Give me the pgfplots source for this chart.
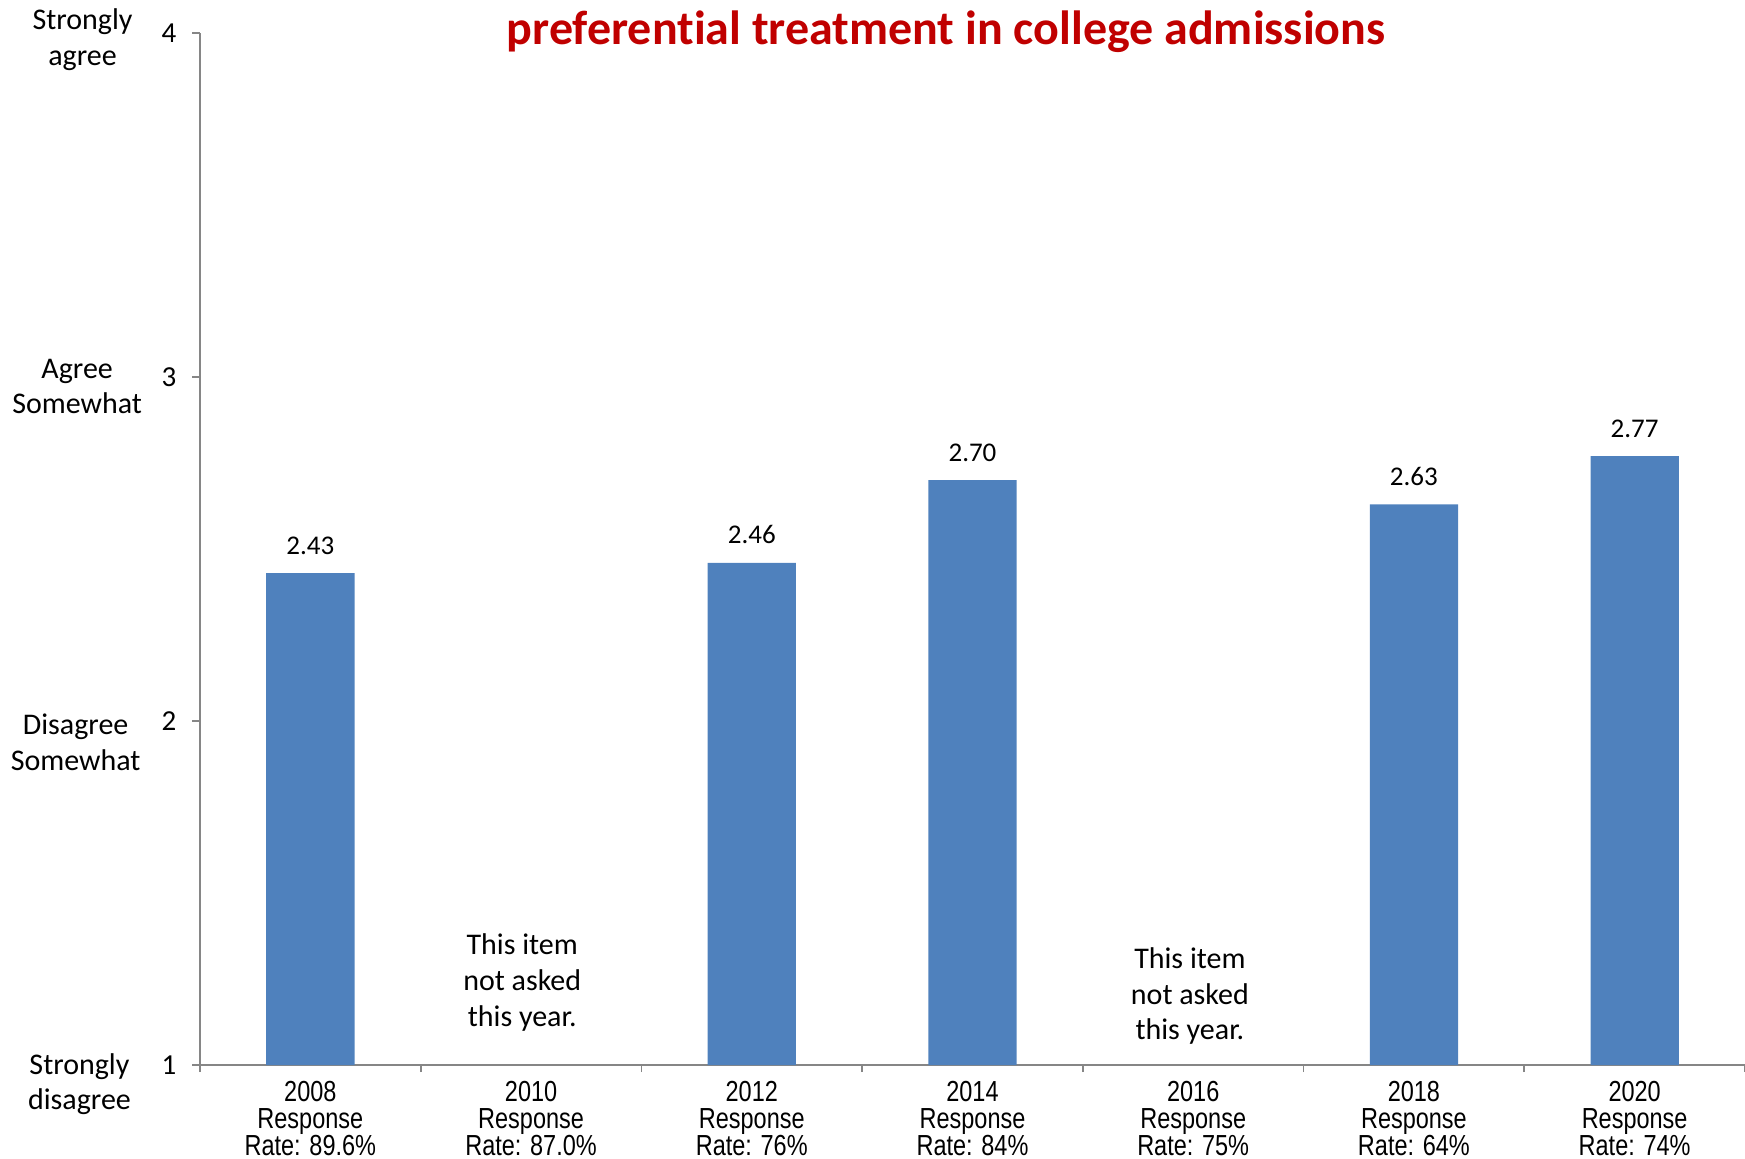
\documentclass[border=0pt]{standalone}
\usepackage{pgfplots}
\pgfplotsset{compat=1.18}
\usepackage{fontspec}
\setmainfont{Carlito}[Ligatures=NoCommon]
\newfontfamily\arialf{Liberation Sans}
\usepackage{graphicx}
\definecolor{barblue}{RGB}{79,129,189}
\definecolor{titlered}{RGB}{192,0,0}
\definecolor{axgray}{RGB}{134,134,134}
\newcommand{\sx}[1]{\scalebox{0.81}[1]{#1}}
\newcommand{\xl}[2]{\sx{#1}\\\sx{Response}\\\sx{Rate: #2}}
\begin{document}
\begin{tikzpicture}
\useasboundingbox (0,0) rectangle (872.5bp,579.5bp);
\begin{axis}[
  at={(100bp,47bp)}, anchor=south west,
  scale only axis, width=772.5bp, height=516bp,
  xmin=-0.5, xmax=6.5, ymin=1, ymax=4,
  axis x line*=bottom, axis y line*=left,
  axis line style={draw=axgray, line width=0.8bp},
  ytick={1,2,3,4},
  xtick={0,...,6},
  xticklabels={{\xl{2008}{89.6\%}},{\xl{2010}{87.0\%}},{\xl{2012}{76\%}},{\xl{2014}{84\%}},{\xl{2016}{75\%}},{\xl{2018}{64\%}},{\xl{2020}{74\%}}},
  major x tick style={draw=none},
  minor xtick={-0.5,0.5,...,6.5},
  minor tick length=3.5bp,
  major tick length=3.8bp,
  tick align=outside,
  tick style={draw=axgray, line width=0.8bp},
  xticklabel style={font=\arialf\fontsize{14.5bp}{13.6bp}\selectfont, align=center, anchor=north, inner sep=0pt, yshift=-4bp},
  yticklabel style={font=\fontsize{14.5bp}{17bp}\selectfont, anchor=east, inner sep=0pt, xshift=-7.8bp},
  /pgf/number format/assume math mode=true,
  clip=false,
  ybar, bar width=0.4,
  nodes near coords,
  nodes near coords style={font=\fontsize{13.5bp}{16bp}\selectfont, anchor=base, inner sep=0pt, yshift=9.5bp,
    /pgf/number format/fixed, /pgf/number format/fixed zerofill, /pgf/number format/precision=2},
]
\addplot[fill=barblue, draw=none] coordinates {(0,2.43) (2,2.46) (3,2.70) (5,2.63) (6,2.77)};
\node[font=\bfseries\fontsize{24bp}{28bp}\selectfont, text=titlered, anchor=base] at (axis description cs:0.483,0.9893) {preferential treatment in college admissions};
\begin{scope}[every node/.style={font=\fontsize{15bp}{17.8bp}\selectfont, align=center}]
\node at (axis description cs:-0.076,0.9935) {Strongly\\agree};
\node at (axis description cs:-0.0795,0.6575) {Agree\\Somewhat};
\node at (axis description cs:-0.0805,0.3125) {Disagree\\Somewhat};
\node at (axis description cs:-0.078,-0.0185) {Strongly\\disagree};
\node at (axis cs:0.96,1.24) {This item\\not asked\\this year.};
\node at (axis cs:3.985,1.20) {This item\\not asked\\this year.};
\end{scope}
\end{axis}
\end{tikzpicture}
\end{document}
